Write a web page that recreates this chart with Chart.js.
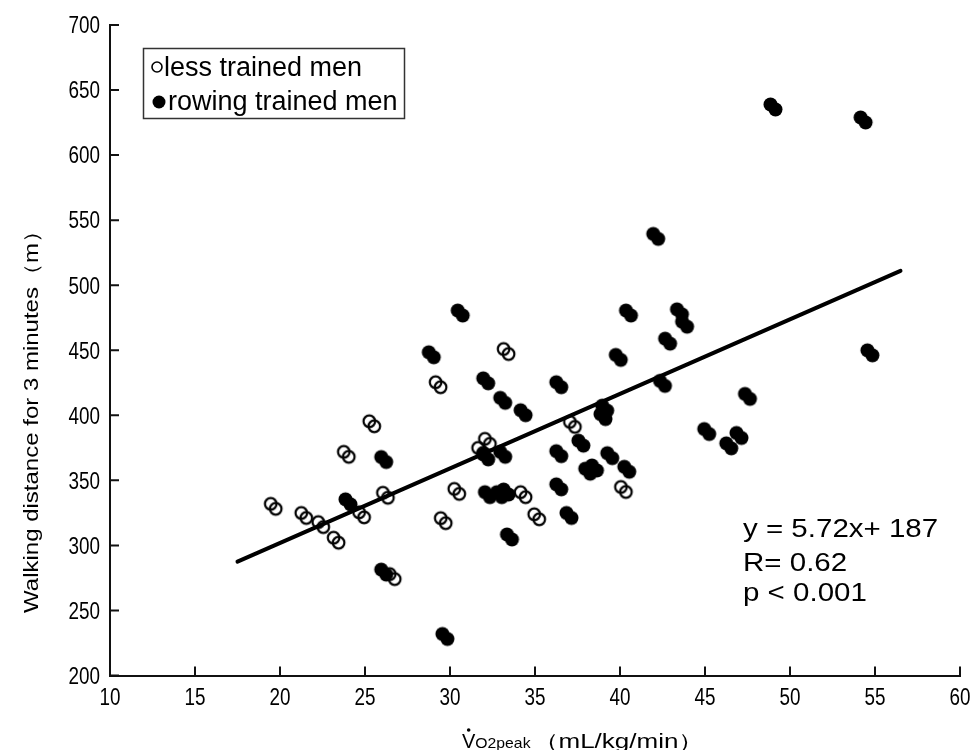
<!DOCTYPE html>
<html>
<head>
<meta charset="utf-8">
<script src="https://cdn.jsdelivr.net/npm/chart.js@4/dist/chart.umd.min.js"></script>
<style>
  body { margin: 0; background: #fff; }
  #wrap { width: 975px; height: 750px; }
</style>
</head>
<body>
<div id="wrap"><canvas id="chart" width="975" height="750"></canvas></div>
<script>
// less trained men (open circles)
const lessX = [19.6, 21.4, 22.4, 23.3, 23.9, 24.8, 25.4, 26.2, 26.6, 29.3, 29.6, 30.4, 31.8, 32.2, 33.3, 34.3, 35.1, 37.2, 40.2];
const lessY = [330, 323, 316, 304, 370, 323.5, 393.5, 338.5, 276, 423.5, 319, 341.5, 373, 380, 449, 339, 322, 393, 343];

// rowing trained men (filled circles)
const rowX = [24.0, 26.1, 26.1, 28.9, 29.7, 30.6, 32.1, 32.1, 32.2, 32.9, 33.3, 33.1, 33.1, 33.5, 34.3, 36.4, 36.4, 36.4, 37.0, 37.7,
              38.1, 38.5, 39.0, 39.1, 39.4, 39.9, 40.4, 40.5, 42.1, 42.5, 42.8, 43.5, 43.8, 45.1, 46.4, 47.0, 47.5, 49.0, 54.3, 54.7];
const rowY = [333.5, 366, 279.5, 446.5, 230, 478.6, 426.5, 368, 339, 339, 341, 411.5, 370, 306.5, 402, 423.5, 370.5, 345, 323, 378.6,
              357, 359.5, 399, 405.5, 369, 444.5, 358.5, 478.6, 537.5, 424.5, 457, 479.5, 470, 387.5, 376.5, 384.5, 414.5, 637, 627, 448];

// regression line end points, y = 5.72x + 187
const fitX = [17.5, 56.5];
const fitY = [287.5, 511];

const xTicks = [10, 15, 20, 25, 30, 35, 40, 45, 50, 55, 60];
const yTicks = [200, 250, 300, 350, 400, 450, 500, 550, 600, 650, 700];

const legendLabels = ['less trained men', 'rowing trained men'];
const statLines = ['y = 5.72x+ 187', 'R= 0.62', 'p < 0.001'];

const sans = "'Liberation Sans', Arial, sans-serif";

// scanned markers look doubled: two circles offset diagonally
function doubleCircle(filled) {
    const c = document.createElement('canvas');
    c.width = 28; c.height = 28;
    const g = c.getContext('2d');
    g.fillStyle = '#000';
    g.strokeStyle = '#000';
    g.lineWidth = 2.2;
    [[11.5, 11.5], [16.5, 16.5]].forEach(([cx, cy]) => {
        g.beginPath();
        if (filled) {
            g.arc(cx, cy, 7, 0, Math.PI * 2);
            g.fill();
        } else {
            g.arc(cx, cy, 5.8, 0, Math.PI * 2);
            g.stroke();
        }
    });
    return c;
}

const toPts = (xs, ys) => xs.map((x, i) => ({ x: x, y: ys[i] }));

// text squeezed or stretched horizontally (scan looks distorted)
function stretchText(ctx, text, x, y, sx, align) {
    ctx.save();
    ctx.translate(x, y);
    ctx.scale(sx, 1);
    ctx.textAlign = align || 'left';
    ctx.fillText(text, 0, 0);
    ctx.restore();
}

const decor = {
    id: 'decor',
    afterDraw(chart) {
        const ctx = chart.ctx;
        const xs = chart.scales.x, ys = chart.scales.y;
        const a = chart.chartArea;
        ctx.save();
        ctx.strokeStyle = '#111';
        ctx.lineWidth = 2;
        ctx.beginPath();
        xTicks.forEach(v => {
            const px = xs.getPixelForValue(v);
            ctx.moveTo(px, a.bottom);
            ctx.lineTo(px, a.bottom - 9);
        });
        yTicks.forEach(v => {
            const py = ys.getPixelForValue(v);
            ctx.moveTo(a.left, py);
            ctx.lineTo(a.left + 9, py);
        });
        ctx.stroke();

        // tick labels
        ctx.fillStyle = '#000';
        ctx.font = '23px ' + sans;
        ctx.textBaseline = 'middle';
        yTicks.forEach(v => stretchText(ctx, String(v), a.left - 10, ys.getPixelForValue(v) + 2, 0.82, 'right'));
        ctx.textBaseline = 'top';
        xTicks.forEach(v => stretchText(ctx, String(v), xs.getPixelForValue(v), a.bottom + 12, 0.82, 'center'));

        // legend box
        ctx.lineWidth = 1.5;
        ctx.strokeStyle = '#333';
        ctx.strokeRect(143.5, 48.5, 261, 70);
        ctx.beginPath();
        ctx.arc(157, 67, 5, 0, Math.PI * 2);
        ctx.lineWidth = 1.6;
        ctx.strokeStyle = '#000';
        ctx.stroke();
        ctx.beginPath();
        ctx.arc(159, 102, 6.5, 0, Math.PI * 2);
        ctx.fill();
        ctx.font = '27px ' + sans;
        ctx.textBaseline = 'alphabetic';
        ctx.textAlign = 'left';
        ctx.fillText(legendLabels[0], 164, 76);
        ctx.fillText(legendLabels[1], 168, 110);

        // stats
        ctx.font = '25px ' + sans;
        statLines.forEach((t, i) => stretchText(ctx, t, 743, [537, 571, 601][i], 1.18, 'left'));

        // y title
        ctx.save();
        ctx.translate(32, 416);
        ctx.rotate(-Math.PI / 2);
        ctx.textBaseline = 'middle';
        ctx.font = '20px ' + sans;
        stretchText(ctx, 'Walking distance for 3 minutes\uFF08m\uFF09', 0, 0, 1.2, 'center');
        ctx.restore();

        // x title
        let x = 462;
        const base = 748;
        ctx.textBaseline = 'alphabetic';
        ctx.font = '20px ' + sans;
        ctx.fillText('V', x, base);
        const vw = ctx.measureText('V').width;
        ctx.beginPath();
        ctx.arc(x + vw / 2, base - 18, 1.8, 0, Math.PI * 2);
        ctx.fill();
        x += vw;
        ctx.font = '15px ' + sans;
        stretchText(ctx, 'O2peak', x, base, 1.05, 'left');
        x += ctx.measureText('O2peak').width * 1.05 + 2;
        ctx.font = '20px ' + sans;
        stretchText(ctx, '\uFF08mL/kg/min\uFF09', x, base, 1.3, 'left');
        ctx.restore();
    }
};

new Chart(document.getElementById('chart').getContext('2d'), {
    type: 'scatter',
    data: {
        datasets: [
            {
                label: legendLabels[0],
                data: toPts(lessX, lessY),
                pointStyle: doubleCircle(false),
                order: 1
            },
            {
                label: legendLabels[1],
                data: toPts(rowX, rowY),
                pointStyle: doubleCircle(true),
                order: 2
            },
            {
                type: 'line',
                label: 'fit',
                data: toPts(fitX, fitY),
                borderColor: '#000',
                borderWidth: 4,
                borderCapStyle: 'round',
                pointRadius: 0,
                fill: false,
                order: 0
            }
        ]
    },
    options: {
        responsive: false,
        animation: false,
        layout: { padding: { top: 25, right: 15, left: 0, bottom: 0 } },
        plugins: { legend: { display: false }, tooltip: { enabled: false } },
        scales: {
            x: {
                type: 'linear',
                min: 10, max: 60,
                afterBuildTicks: s => { s.ticks = xTicks.map(v => ({ value: v })); },
                afterFit: s => { s.height = 74.5; },
                grid: { display: false, drawTicks: false },
                border: { color: '#111', width: 2 },
                ticks: { display: false }
            },
            y: {
                min: 200, max: 700,
                afterBuildTicks: s => { s.ticks = yTicks.map(v => ({ value: v })); },
                afterFit: s => { s.width = 110; },
                grid: { display: false, drawTicks: false },
                border: { color: '#111', width: 2 },
                ticks: { display: false }
            }
        }
    },
    plugins: [decor]
});
</script>
</body>
</html>
